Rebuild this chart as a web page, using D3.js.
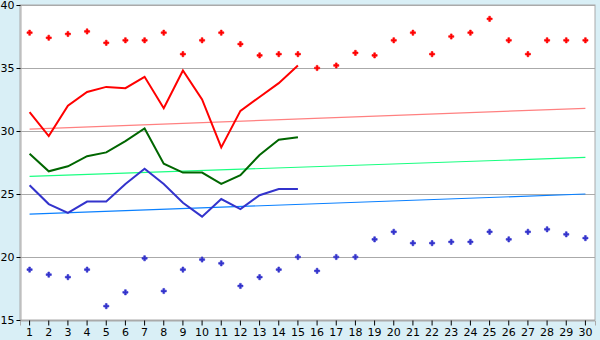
<!DOCTYPE html>
<html>
<head>
<meta charset="utf-8">
<script src="https://cdn.jsdelivr.net/npm/d3@7"></script>
<style>
  body { margin: 0; background: #d9eff6; }
  svg { display: block; }
  .tick text { font-family: "DejaVu Sans", Verdana, sans-serif; font-size: 11px; fill: #000; }
</style>
</head>
<body>
<div id="chart"></div>
<script>
// days on the x axis
const days = d3.range(1, 31);
const yTicks = [15, 20, 25, 30, 35, 40];

// scattered maxima / minima (30 days)
const highDots = [37.8, 37.4, 37.7, 37.9, 37.0, 37.2, 37.2, 37.8, 36.1, 37.2,
                  37.8, 36.9, 36.0, 36.1, 36.1, 35.0, 35.2, 36.2, 36.0, 37.2,
                  37.8, 36.1, 37.5, 37.8, 38.9, 37.2, 36.1, 37.2, 37.2, 37.2];
const lowDots = [19.0, 18.6, 18.4, 19.0, 16.1, 17.2, 19.9, 17.3, 19.0, 19.8,
                 19.5, 17.7, 18.4, 19.0, 20.0, 18.9, 20.0, 20.0, 21.4, 22.0,
                 21.1, 21.1, 21.2, 21.2, 22.0, 21.4, 22.0, 22.2, 21.8, 21.5];

// daily lines (first 15 days)
const redLine = [31.5, 29.6, 32.0, 33.1, 33.5, 33.4, 34.3, 31.8, 34.8, 32.5,
                 28.7, 31.6, 32.7, 33.8, 35.2];
const greenLine = [28.2, 26.8, 27.2, 28.0, 28.3, 29.2, 30.2, 27.4, 26.7, 26.7,
                   25.8, 26.5, 28.1, 29.3, 29.5];
const blueLine = [25.7, 24.2, 23.5, 24.4, 24.4, 25.8, 27.0, 25.8, 24.3, 23.2,
                  24.6, 23.8, 24.9, 25.4, 25.4];

// trend lines: value on day 1 and day 30
const redTrend = [30.15, 31.8];
const greenTrend = [26.4, 27.9];
const blueTrend = [23.4, 25.0];

const W = 600, H = 340;
const margin = { top: 5, right: 5, bottom: 20, left: 20 };

const svg = d3.select('#chart').append('svg')
  .attr('width', W)
  .attr('height', H);

const x = d3.scaleBand()
  .domain(days)
  .range([margin.left, W - margin.right]);
const cx = d => x(d) + x.bandwidth() / 2;

const y = d3.scaleLinear()
  .domain([15, 40])
  .range([H - margin.bottom, margin.top]);

// plot background
svg.append('rect')
  .attr('x', margin.left)
  .attr('y', margin.top)
  .attr('width', W - margin.left - margin.right)
  .attr('height', H - margin.top - margin.bottom)
  .attr('fill', '#fff')
  .attr('stroke', '#aaa');

// grid
svg.append('g')
  .selectAll('line')
  .data(yTicks)
  .join('line')
  .attr('x1', margin.left)
  .attr('x2', W - margin.right)
  .attr('y1', d => Math.round(y(d)) + 0.5)
  .attr('y2', d => Math.round(y(d)) + 0.5)
  .attr('stroke', '#aaa');

// axes
const yAxis = svg.append('g')
  .attr('transform', `translate(${margin.left + 0.5},0)`)
  .call(d3.axisLeft(y).tickValues(yTicks).tickSize(4).tickPadding(2));
const xAxis = svg.append('g')
  .attr('transform', `translate(0,${Math.round(y(15)) + 0.5})`)
  .call(d3.axisBottom(x).tickSize(5).tickPadding(3));
[yAxis, xAxis].forEach(a => {
  a.select('.domain').attr('stroke', '#aaa');
  a.selectAll('.tick line').attr('stroke', '#000');
});

// trend lines
const trends = [
  { v: redTrend, c: '#ff8080' },
  { v: greenTrend, c: '#19ff80' },
  { v: blueTrend, c: '#0a80ff' }
];
svg.append('g')
  .selectAll('line')
  .data(trends)
  .join('line')
  .attr('x1', cx(1))
  .attr('x2', cx(30))
  .attr('y1', d => y(d.v[0]))
  .attr('y2', d => y(d.v[1]))
  .attr('stroke', d => d.c)
  .attr('stroke-width', 1.2);

// daily lines
const line = d3.line()
  .x((d, i) => cx(days[i]))
  .y(d => y(d));
const series = [
  { v: redLine, c: '#ff0000' },
  { v: greenLine, c: '#006600' },
  { v: blueLine, c: '#3333cc' }
];
svg.append('g')
  .selectAll('path')
  .data(series)
  .join('path')
  .attr('d', d => line(d.v))
  .attr('fill', 'none')
  .attr('stroke', d => d.c)
  .attr('stroke-width', 2);

// dots
const cross = d3.symbol().type(d3.symbolCross).size(15);
const dots = [
  { v: highDots, c: '#ff0000' },
  { v: lowDots, c: '#3333cc' }
];
dots.forEach(s => {
  svg.append('g')
    .selectAll('path')
    .data(s.v)
    .join('path')
    .attr('transform', (d, i) => `translate(${cx(days[i])},${y(d)})`)
    .attr('d', cross)
    .attr('fill', s.c)
    .attr('stroke', s.c)
    .attr('stroke-width', 0.6);
});
</script>
</body>
</html>
